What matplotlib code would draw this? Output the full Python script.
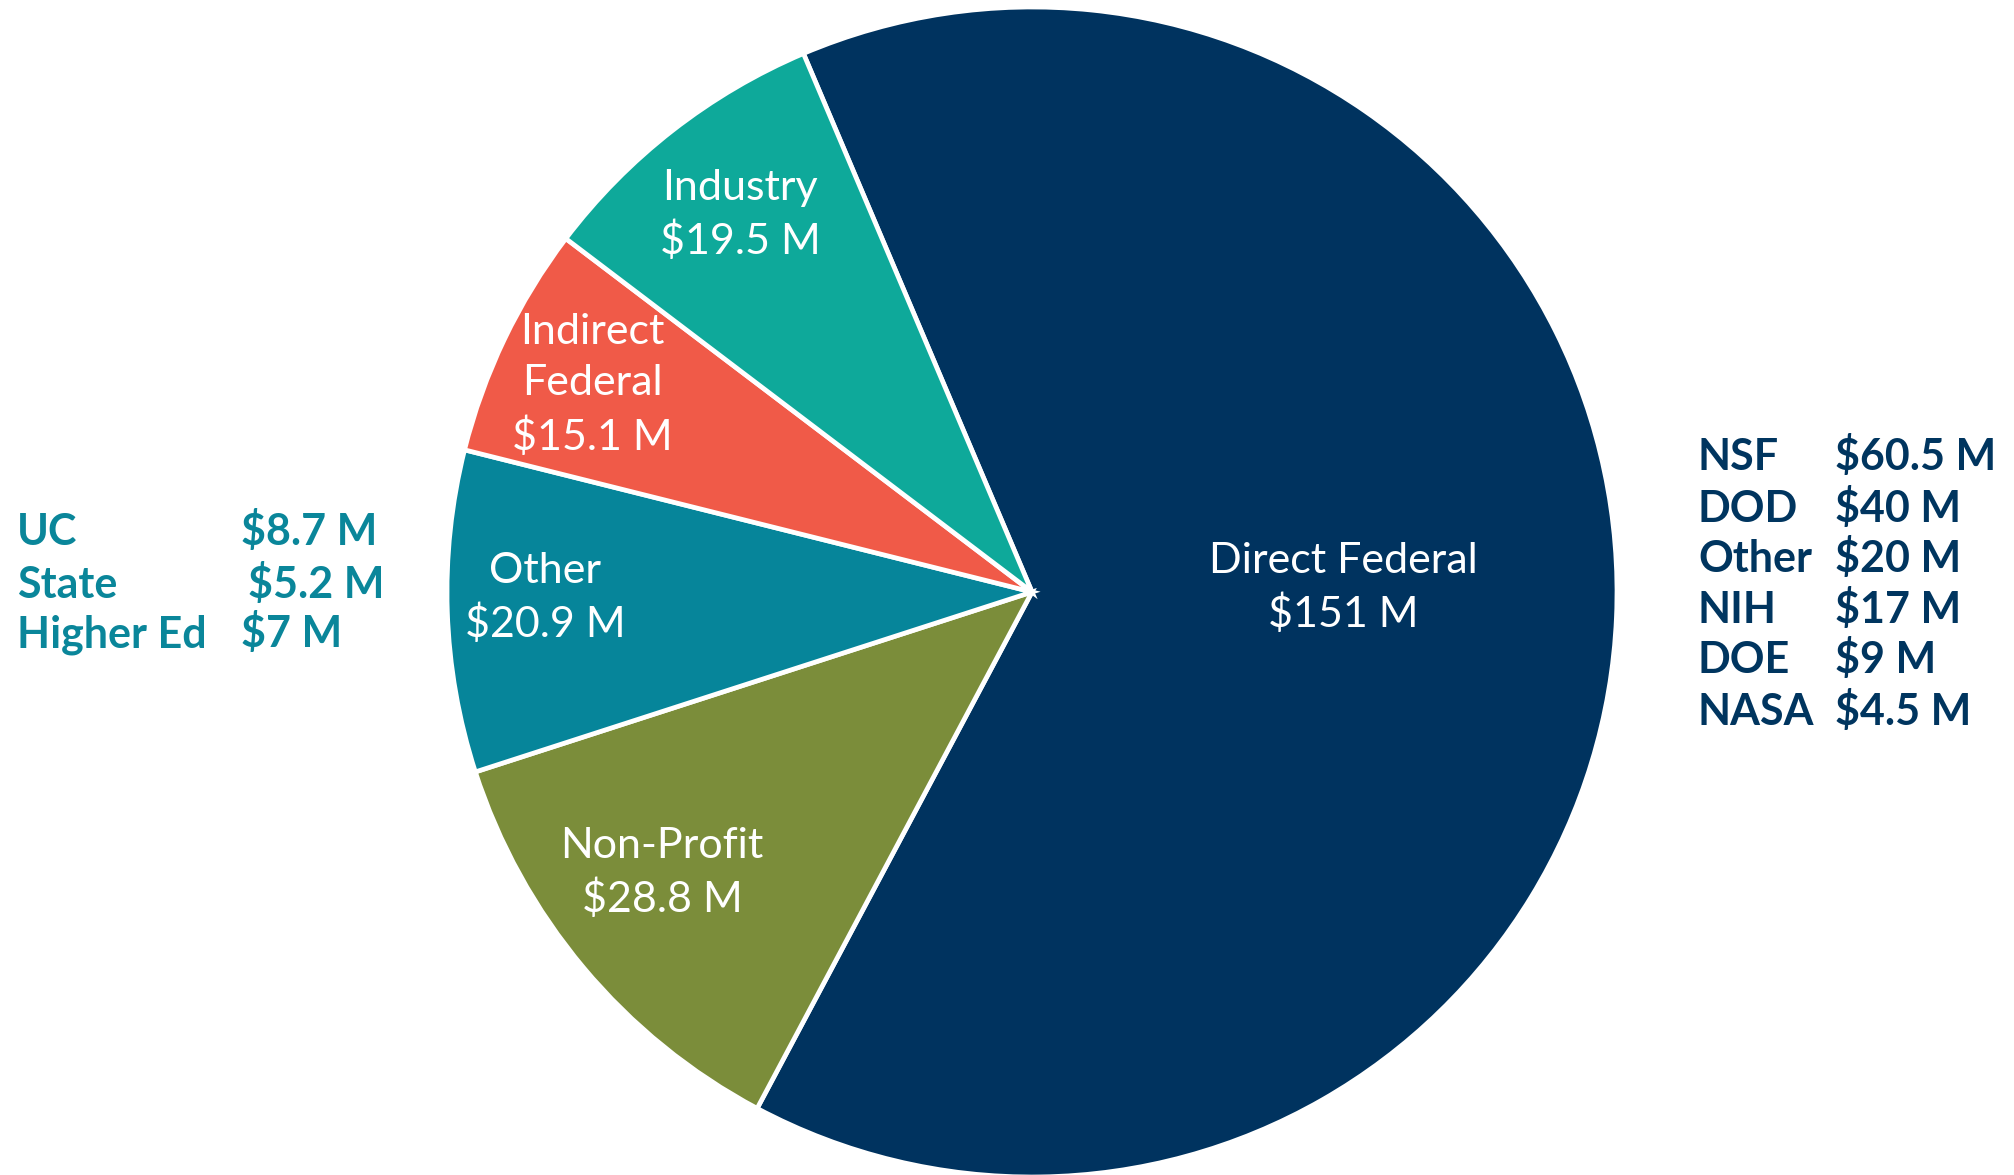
import matplotlib.pyplot as plt

# Funding sources (millions of dollars)
sources = ["Direct Federal", "Non-Profit", "Other", "Indirect Federal", "Industry"]
amounts = [151, 28.8, 20.9, 15.1, 19.5]
amount_labels = ["$151 M", "$28.8 M", "$20.9 M", "$15.1 M", "$19.5 M"]
slice_names = ["Direct Federal", "Non-Profit", "Other", "Indirect\nFederal", "Industry"]
colors = ["#00335F", "#7B8D3A", "#06859A", "#F05A48", "#0EA99A"]

# Breakdown of "Other" (left) and "Direct Federal" (right)
other_names = ["UC", "State", "Higher Ed"]
other_values = ["$8.7 M", "$5.2 M", "$7 M"]
federal_names = ["NSF", "DOD", "Other", "NIH", "DOE", "NASA"]
federal_values = ["$60.5 M", "$40 M", "$20 M", "$17 M", "$9 M", "$4.5 M"]

W, H = 2015, 1175
plt.rcParams['font.family'] = ['Lato', 'DejaVu Sans']

fig = plt.figure(figsize=(W / 100, H / 100), dpi=100)
ax = fig.add_axes([0, 0, 1, 1])

ax.pie(amounts, colors=colors, startangle=113, counterclock=False,
       center=(1032, H - 592), radius=585,
       wedgeprops=dict(edgecolor='white', linewidth=3.4))

ax.set_xlim(0, W)
ax.set_ylim(0, H)
ax.set_aspect('equal')
ax.axis('off')

# slice labels (pixel positions of label centres)
label_pos = [(1343, 588), (662, 873), (545, 598), (592, 385), (740, 215)]
for name, amt, (x, y) in zip(slice_names, amount_labels, label_pos):
    ax.text(x, H - y, f"{name}\n{amt}", color='white', fontsize=31,
            ha='center', va='center', linespacing=1.42)

# left breakdown
left_color = "#0A869A"
left_rows = [545, 598, 647]
left_val_x = [241, 248, 241]
for name, val, y, vx in zip(other_names, other_values, left_rows, left_val_x):
    ax.text(17, H - y, name, color=left_color, fontsize=31, fontweight='bold',
            ha='left', va='baseline')
    ax.text(vx, H - y, val, color=left_color, fontsize=31, fontweight='bold',
            ha='left', va='baseline')

# right breakdown
right_color = "#00355F"
right_rows = [470, 522, 572, 623, 673, 725]
for name, val, y in zip(federal_names, federal_values, right_rows):
    ax.text(1698, H - y, name, color=right_color, fontsize=31, fontweight='bold',
            ha='left', va='baseline')
    ax.text(1835, H - y, val, color=right_color, fontsize=31, fontweight='bold',
            ha='left', va='baseline')

fig.savefig("out.png", dpi=100, facecolor='white')
